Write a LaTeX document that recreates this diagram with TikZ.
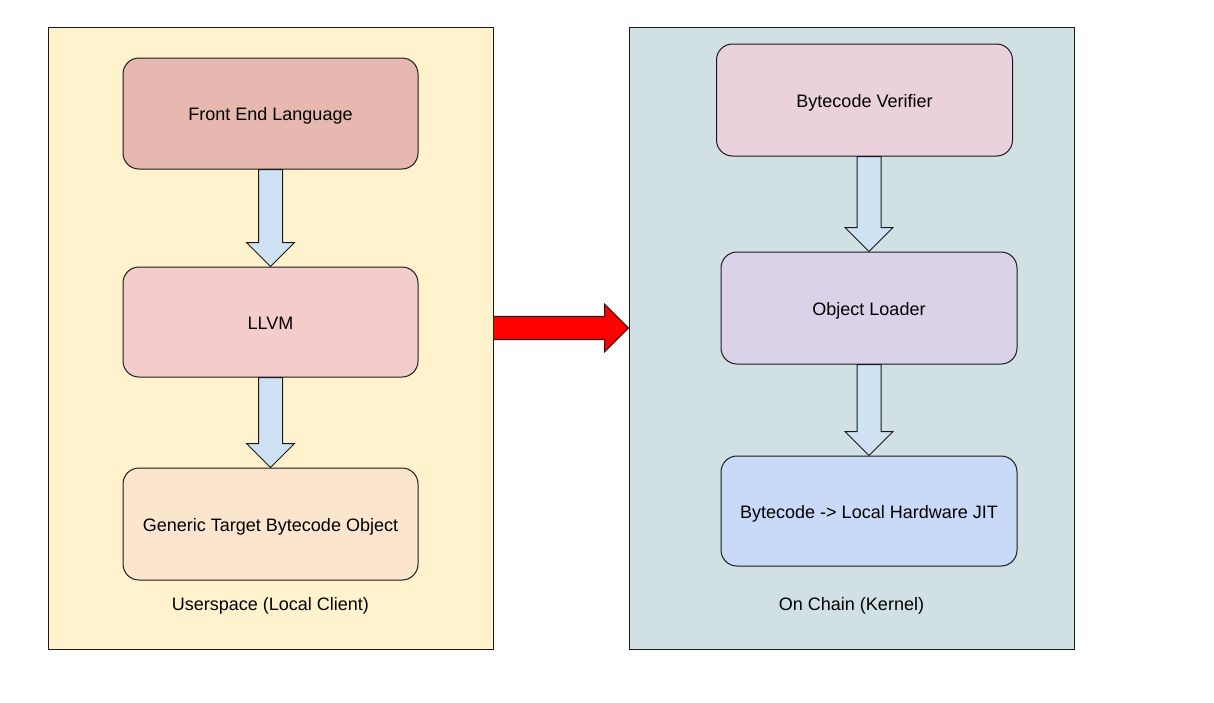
\documentclass[tikz,border=0pt]{standalone}
\usepackage{fontspec}
\setmainfont{Liberation Sans}
\usetikzlibrary{calc}
\definecolor{userbg}{HTML}{FFF2CC}
\definecolor{chainbg}{HTML}{D0E0E3}
\definecolor{fecol}{HTML}{E6B8AF}
\definecolor{llvmcol}{HTML}{F4CCCC}
\definecolor{gencol}{HTML}{FCE5CD}
\definecolor{bvcol}{HTML}{EAD1DC}
\definecolor{olcol}{HTML}{D9D2E9}
\definecolor{jitcol}{HTML}{C9DAF8}
\definecolor{arrcol}{HTML}{CFE2F3}
\definecolor{linecol}{HTML}{1A1A1A}
\tikzset{
  container/.style={draw=linecol, line width=1pt, minimum width=445pt, minimum height=622pt, inner sep=0pt},
  stagebox/.style={draw=linecol, line width=1pt, rounded corners=16pt, minimum width=295pt, minimum height=111pt, inner sep=0pt, text height=14pt, text depth=0pt, font=\fontsize{18}{22}\selectfont},
  caption/.style={font=\fontsize{18}{22}\selectfont, inner sep=0pt, text height=14pt, text depth=0pt},
  blockarrow/.style={draw=linecol, line width=1pt, fill=arrcol, line join=miter},
  bigarrow/.style={draw=linecol, line width=1pt, fill=red, line join=miter}
}
\begin{document}
\begin{tikzpicture}[x=1pt,y=-1pt]
\useasboundingbox (0,0) rectangle (1214,702);
\node[container, fill=userbg] (user) at (270.5,338) {};
\node[container, fill=chainbg] (chain) at (851.5,338) {};

\node[stagebox, fill=fecol] (fe) at (270.5,113.5) {Front End Language};
\node[stagebox, fill=llvmcol, minimum height=110pt] (llvm) at (270.5,322) {LLVM};
\node[stagebox, fill=gencol, minimum height=112pt] (gen) at (270.5,524) {Generic Target Bytecode Object};
\node[caption] (ulab) at (270.5,603) {Userspace (Local Client)};

\node[stagebox, fill=bvcol, minimum width=296pt, minimum height=112pt] (bv) at (864.5,100) {Bytecode Verifier};
\node[stagebox, fill=olcol, minimum width=296pt, minimum height=112pt] (ol) at (869,308) {Object Loader};
\node[stagebox, fill=jitcol, minimum width=296pt, minimum height=110pt] (jit) at (869,511) {Bytecode -> Local Hardware JIT};
\node[caption] (clab) at (851.5,603) {On Chain (Kernel)};

% down block arrows
\foreach \a/\b in {fe/llvm, llvm/gen, bv/ol, ol/jit}{
  \draw[blockarrow] let \p1=(\a.south), \p2=(\b.north) in
    (\x2-12pt,\y1) -- (\x2+12pt,\y1) -- (\x2+12pt,\y2+24pt) -- (\x2+24pt,\y2+24pt)
    -- (\x2,\y2) -- (\x2-24pt,\y2+24pt) -- (\x2-12pt,\y2+24pt) -- cycle;
}
% red arrow (centre 10px above the containers' middle)
\draw[bigarrow] let \p1=(user.east), \p2=(chain.west) in
  (\x1,\y1+21.7pt) -- (\x2-24pt,\y1+21.7pt) -- (\x2-24pt,\y1+34pt) -- (\x2,\y1+10pt)
  -- (\x2-24pt,\y1-14pt) -- (\x2-24pt,\y1-1.7pt) -- (\x1,\y1-1.7pt);
\end{tikzpicture}
\end{document}
